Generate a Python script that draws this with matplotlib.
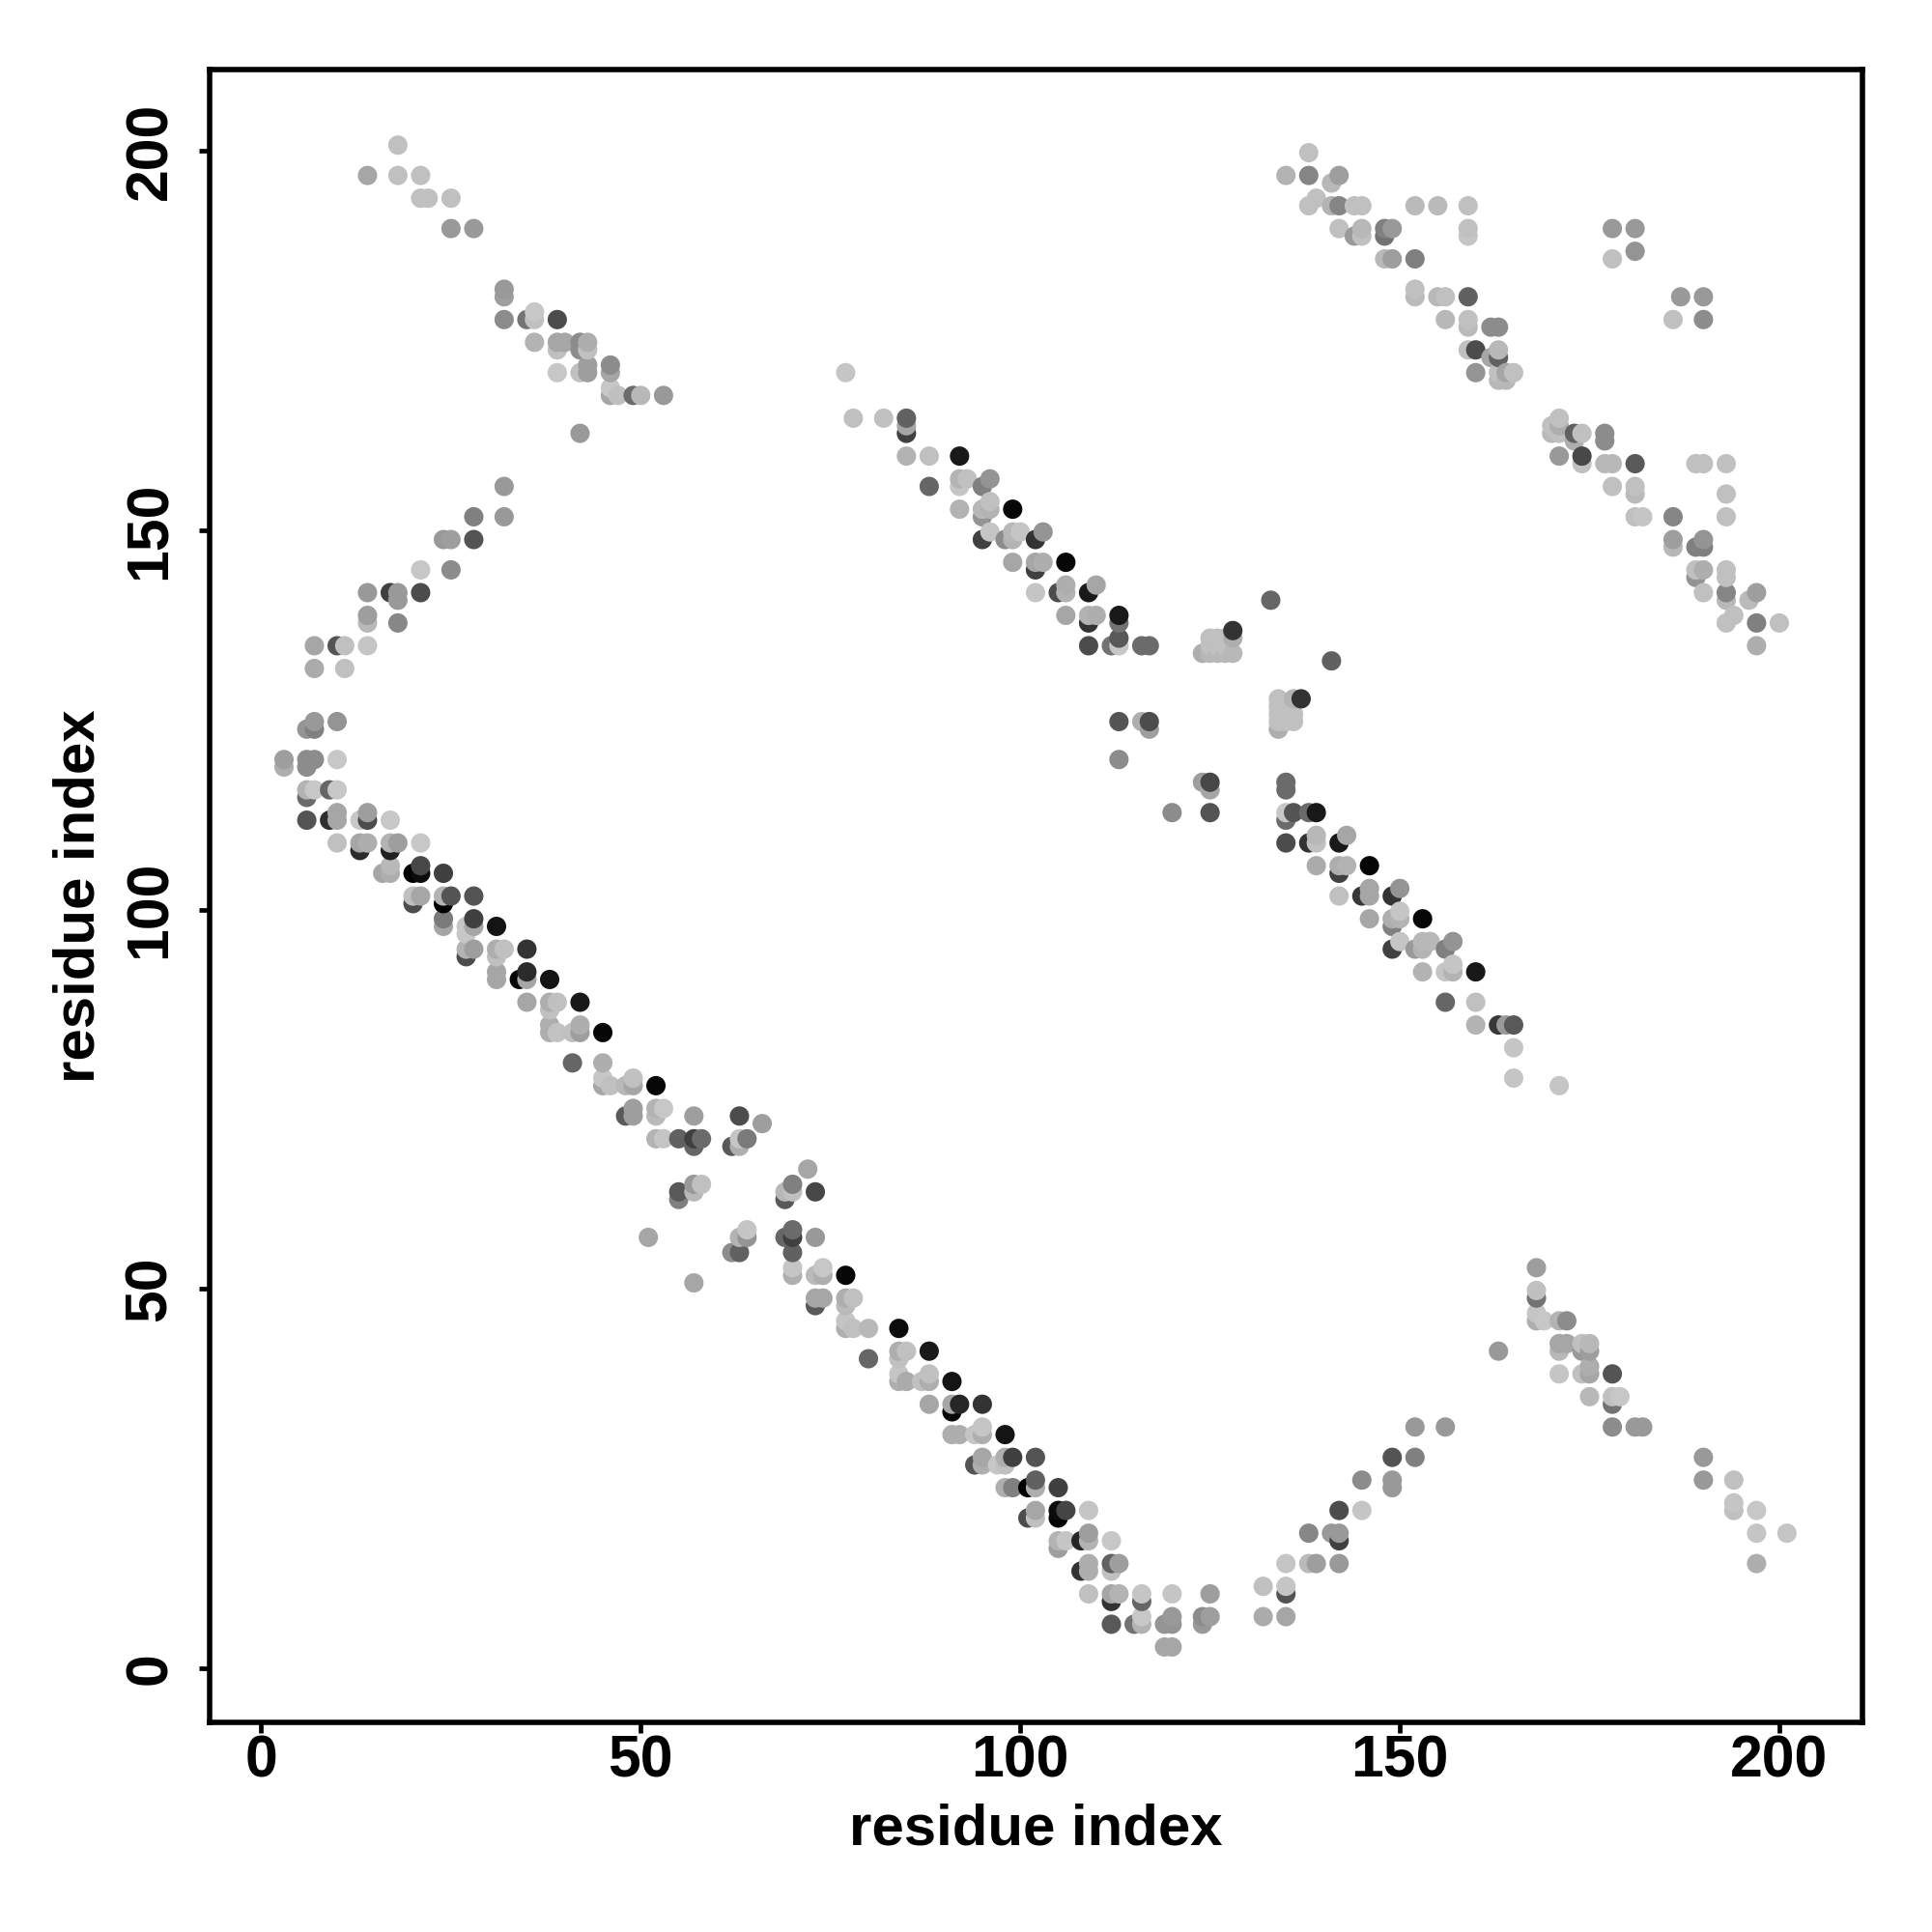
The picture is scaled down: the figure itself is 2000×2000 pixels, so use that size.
import matplotlib
matplotlib.use("Agg")
import matplotlib.pyplot as plt
import numpy as np

plt.rcParams['font.family'] = ['Liberation Sans', 'DejaVu Sans']

# (i, j, shade); shade is the grey level of the dot
antidiag_low_left = [
(18,201,.75),(14,197,.65),(18,197,.75),(21,197,.75),(21,194,.75),(22,194,.75),(25,194,.75),(25,190,.6),(28,190,.6),
(32,182,.6),(32,181,.62),(32,178,.55),(35,178,.45),(36,179,.78),(36,178,.75),(39,178,.3),(36,175,.7),(39,175,.65),
(40,175,.65),(39,174,.75),(42,175,.55),(43,175,.68),(42,174,.55),(43,174,.75),(39,171,.78),(42,171,.75),(43,172,.62),
(43,171,.62),(46,172,.55),(46,171,.65),(46,169,.78),(46,168,.65),(47,168,.75),(49,168,.42),(50,168,.72),(53,168,.6),
(42,163,.6),(32,156,.6),(28,152,.5),(32,152,.6),(24,149,.6),(25,149,.62),(28,149,.33),
(21,145,.78),(25,145,.55),(14,142,.6),(17,142,.25),(18,142,.6),(18,141,.6),(21,142,.3),(14,139,.62),(14,138,.72),
(18,138,.53),(7,135,.65),(10,135,.33),(11,135,.75),(14,135,.77),(7,132,.67),(11,132,.75),
(7,125,.6),(10,125,.58),(6,124,.58),(7,124,.5),(3,120,.62),(6,120,.55),(7,120,.55),(10,120,.78),(3,119,.68),(6,119,.55),
(6,116,.7),(7,116,.78),(9,116,.4),(10,116,.78),(6,115,.42),(10,113,.65),(14,113,.62),(6,112,.33),(9,112,.18),(10,112,.65),
(13,112,.78),(14,112,.3),(17,112,.78),
]
main_diag_upper = [
(10,109,.75),(13,109,.65),(14,109,.68),(17,109,.7),(18,109,.62),(21,109,.78),(13,108,.17),(17,108,.13),(17,106,.72),(21,106,.28),
(16,105,.65),(17,105,.68),(20,105,.0),(21,105,.05),(24,105,.25),(20,102,.75),(21,102,.65),(24,102,.7),(25,102,.33),(28,102,.33),
(20,101,.3),(24,101,.0),(24,99,.48),(28,99,.25),(24,98,.65),(28,98,.65),(31,98,.08),(27,98,.78),(27,97,.78),
(27,95,.7),(28,95,.62),(31,95,.68),(32,95,.75),(35,95,.2),(27,94,.3),(31,94,.75),(31,92,.65),(35,92,.17),(31,91,.65),
(34,91,.03),(35,91,.65),(38,91,.08),(35,88,.65),(38,88,.68),(39,88,.75),(42,88,.1),(38,87,.75),(38,85,.68),(42,85,.68),
(38,84,.68),(39,84,.76),(41,84,.75),(42,84,.62),(45,84,.03),(41,80,.4),(45,80,.68),(45,78,.78),(49,78,.75),(45,77,.65),
(46,77,.75),(48,77,.72),(49,77,.65),(52,77,.03),(48,73,.35),(49,74,.62),(49,73,.62),(52,74,.7),(53,74,.78),(52,73,.73),
(57,73,.62),(63,73,.3),(66,72,.62),(52,70,.7),(53,70,.77),(55,70,.38),(57,70,.25),(58,70,.42),(57,69,.4),(62,69,.35),
(63,70,.77),(63,69,.68),(64,70,.48),(72,66,.65),(70,64,.5),(69,63,.72),(70,63,.75),(69,62,.35),(73,63,.28),(55,63,.35),
(55,62,.5),(57,64,.6),(58,64,.75),(57,63,.72),(51,57,.65),(64,58,.77),(63,57,.7),(64,57,.58),(62,55,.55),(63,55,.38),
(70,58,.42),(69,57,.4),(70,57,.25),(73,57,.6),(70,55,.38),(70,53,.77),(74,53,.78),(70,52,.68),(73,52,.73),(74,52,.68),
(77,52,.03),(57,51,.65),(73,49,.65),(74,49,.65),(77,49,.68),(78,49,.75),(73,48,.35),(77,48,.73),(77,46,.77),(77,45,.68),
(78,45,.75),(80,45,.72),(84,45,.05),(80,41,.4),(84,42,.68),(85,42,.75),(88,42,.1),(84,41,.75),(84,39,.77),(88,39,.75),
(84,38,.68),(85,38,.67),(87,38,.75),(88,38,.68),(91,38,.08),(88,35,.65),(91,35,.65),(92,35,.15),(91,34,.03),
]
antidiag_low_right = [
(95,35,.2),(95,32,.77),(91,31,.68),(92,31,.68),(94,31,.77),(95,31,.68),(98,31,.08),(95,28,.65),(98,28,.68),(99,28,.25),
(102,28,.33),(94,27,.33),(95,27,.68),(97,27,.78),(98,27,.75),(102,25,.38),(98,24,.68),(99,24,.5),(101,24,.0),(102,24,.68),
(105,24,.25),(102,21,.65),(105,21,.05),(106,21,.27),(109,21,.77),(101,20,.3),(102,20,.75),(105,20,.02),(109,18,.62),
(105,17,.7),(106,17,.77),(108,17,.15),(109,17,.7),(112,17,.78),(105,16,.62),(109,14,.68),(112,14,.38),(113,14,.62),
(108,13,.2),(109,13,.68),(112,13,.75),(109,10,.75),(112,10,.65),(113,10,.7),(116,10,.77),(120,10,.77),(125,10,.62),
(112,9,.2),(116,9,.4),(116,7,.78),(120,7,.6),(124,7,.55),(125,7,.62),(132,7,.67),(135,7,.65),(112,6,.35),(115,6,.45),
(116,6,.7),(119,6,.58),(120,6,.58),(124,6,.6),(119,3,.65),(120,3,.65),(132,11,.75),(135,11,.77),(135,10,.33),(135,14,.77),
(138,14,.73),(139,14,.62),(142,14,.6),(138,18,.53),(141,18,.6),(142,18,.6),(142,17,.25),(142,21,.3),
(145,21,.77),(145,25,.55),(149,25,.6),(149,24,.6),(149,28,.33),(152,28,.5),(152,32,.6),(156,32,.6),(163,42,.6),(168,53,.62),
(168,50,.75),(168,49,.45),(168,47,.77),(168,46,.68),(169,46,.78),(171,46,.7),(172,46,.55),(171,43,.65),(172,43,.65),
(174,43,.75),(175,43,.72),(171,42,.72),(174,42,.6),(175,42,.62),(175,40,.68),(171,39,.77),(174,39,.75),(175,39,.65),
(178,39,.33),(175,36,.72),(178,36,.75),(179,36,.78),(178,35,.45),(178,32,.55),(181,32,.6),(182,32,.6),(190,28,.6),
(190,25,.6),(194,25,.75),(194,22,.77),(194,21,.75),(197,21,.78),(197,18,.77),(201,18,.77),(197,14,.68),
]
upper_middle = [
(77,171,.77),(78,165,.75),(82,165,.75),(85,165,.38),(85,164,.65),(85,163,.25),(85,160,.7),(88,160,.75),(92,160,.1),
(92,157,.7),(93,157,.75),(96,157,.58),(88,156,.4),(92,156,.77),(95,156,.5),(96,154,.75),(92,153,.7),(95,153,.72),
(96,153,.7),(99,153,.03),(95,152,.58),(96,150,.77),(99,150,.72),(100,150,.77),(103,150,.58),(95,149,.25),(98,149,.55),
(99,149,.7),(102,149,.2),(99,146,.65),(102,146,.65),(103,146,.68),(106,146,.03),(102,145,.25),(106,143,.68),(110,143,.65),
(102,142,.77),(105,142,.3),(106,142,.7),(109,142,.1),(106,139,.65),(109,139,.7),(110,139,.68),(113,139,.1),(109,138,.2),
(113,138,.45),(113,136,.35),(109,135,.3),(112,135,.45),(113,135,.78),(116,135,.42),(117,135,.42),
(133,141,.4),(128,137,.2),(125,136,.75),(126,136,.75),(127,136,.75),(128,136,.68),(125,135,.75),(126,135,.75),(127,135,.75),
(124,134,.68),(125,134,.72),(126,134,.72),(127,134,.72),(128,134,.72),(141,133,.38),(134,128,.75),(136,128,.7),(137,128,.2),
(134,127,.75),(134,126,.75),(135,126,.75),(136,126,.75),(134,125,.75),(135,125,.75),(136,125,.75),(134,124,.68),
(113,125,.33),(116,125,.68),(117,125,.3),(117,124,.62),(113,120,.55),(124,117,.62),(125,117,.28),(125,116,.65),(120,113,.55),
(125,113,.33),(135,117,.42),(135,116,.42),(135,113,.78),(136,113,.33),(138,113,.42),(139,113,.1),(135,112,.42),
(135,109,.3),(138,109,.2),(139,110,.72),(139,109,.75),(142,109,.1),(143,110,.65),
(139,106,.67),(142,106,.68),(143,106,.7),(146,106,.02),(142,105,.25),(146,103,.65),(150,103,.58),(142,102,.75),(145,102,.22),
(146,102,.65),(149,102,.2),(150,100,.77),(146,99,.65),(149,99,.68),(150,99,.7),(153,99,.03),(149,98,.5),(150,96,.77),
(153,96,.72),(154,96,.72),(157,96,.58),(149,95,.25),(152,95,.6),(153,95,.7),(156,95,.5),(157,93,.77),(153,92,.7),
(156,92,.77),(157,92,.7),(160,92,.1),(156,88,.4),(160,88,.75),(160,85,.7),(163,85,.22),(164,85,.6),(165,85,.35),
(165,82,.77),(165,78,.77),(171,77,.77),
]
upper_right = [
(138,200,.75),(135,197,.7),(138,197,.52),(142,197,.62),(141,196,.72),(139,194,.75),(138,193,.75),(141,193,.7),(142,193,.52),
(144,193,.75),(145,193,.75),(152,193,.73),(155,193,.73),(159,193,.75),(142,190,.75),(145,190,.72),(148,190,.5),(149,190,.6),
(159,190,.75),(144,189,.6),(145,189,.75),(148,189,.45),(159,189,.77),(148,186,.72),(149,186,.62),(152,186,.5),(152,182,.75),
(152,181,.73),(155,181,.72),(156,181,.75),(159,181,.38),(156,178,.72),(159,178,.75),(159,177,.73),(162,177,.55),(163,177,.55),
(159,174,.75),(160,174,.3),(163,174,.72),(162,173,.65),(163,173,.38),(160,171,.58),(163,171,.75),(164,171,.65),(165,171,.75),
(163,170,.72),(164,170,.72),(187,181,.6),(190,181,.6),(186,178,.75),(190,178,.55),(178,190,.6),(181,190,.6),(178,186,.75),
(181,187,.58),(171,165,.75),(170,164,.75),(171,164,.68),(170,163,.73),(171,163,.75),(173,163,.38),(174,163,.75),(177,163,.55),
(173,162,.68),(177,162,.55),(171,160,.6),(174,160,.28),(174,159,.75),(177,159,.72),(178,159,.72),(181,159,.35),(189,159,.75),
(190,159,.75),(193,159,.75),(178,156,.75),(181,156,.75),(181,155,.73),(193,155,.75),(181,152,.75),(182,152,.77),(186,152,.52),
(193,152,.75),(186,149,.62),(190,149,.58),(186,148,.72),(189,148,.5),(190,148,.5),(189,145,.75),(190,145,.68),(193,145,.75),
(189,144,.58),(193,144,.75),(190,142,.75),(193,142,.52),(197,142,.62),(193,141,.72),(196,141,.73),(194,139,.75),(193,138,.75),
(197,138,.5),(200,138,.75),(197,135,.68),
]
tick_values = [0, 50, 100, 150, 200]
axis_title = "residue index"

points = np.array(antidiag_low_left + main_diag_upper + antidiag_low_right + upper_middle + upper_right)
order = np.lexsort((points[:, 1], points[:, 0]))
points = points[order]

fig = plt.figure(figsize=(20, 20), dpi=100)
ax = fig.add_axes([217/2000, 217/2000, 1711/2000, 1711/2000])
# the dots sit about 0.2 of a unit below the whole-number rows in the reference
ax.scatter(points[:, 0], points[:, 1] - 0.2, c=points[:, 2], cmap='gray', vmin=0, vmax=1,
           s=208, linewidths=0, zorder=3)
ax.set_xlim(-6.8, 210.95)
ax.set_ylim(-7.14, 210.76)
ax.set_xticks(tick_values)
ax.set_yticks(tick_values)
ax.tick_params(axis='both', length=8, width=3.4, direction='out', labelsize=43.7)
ax.tick_params(axis='x', pad=1)
ax.tick_params(axis='y', pad=15)
for lab in ax.get_xticklabels() + ax.get_yticklabels():
    lab.set_fontweight('bold')
for lab in ax.get_yticklabels():
    lab.set_rotation(90)
    lab.set_va('center')
for sp in ax.spines.values():
    sp.set_linewidth(4)
ax.set_xlabel(axis_title, fontsize=43.1, fontweight='bold', labelpad=10)
ax.set_ylabel(axis_title, fontsize=43.1, fontweight='bold', labelpad=13)
fig.savefig('out.png', dpi=100, facecolor='white')
